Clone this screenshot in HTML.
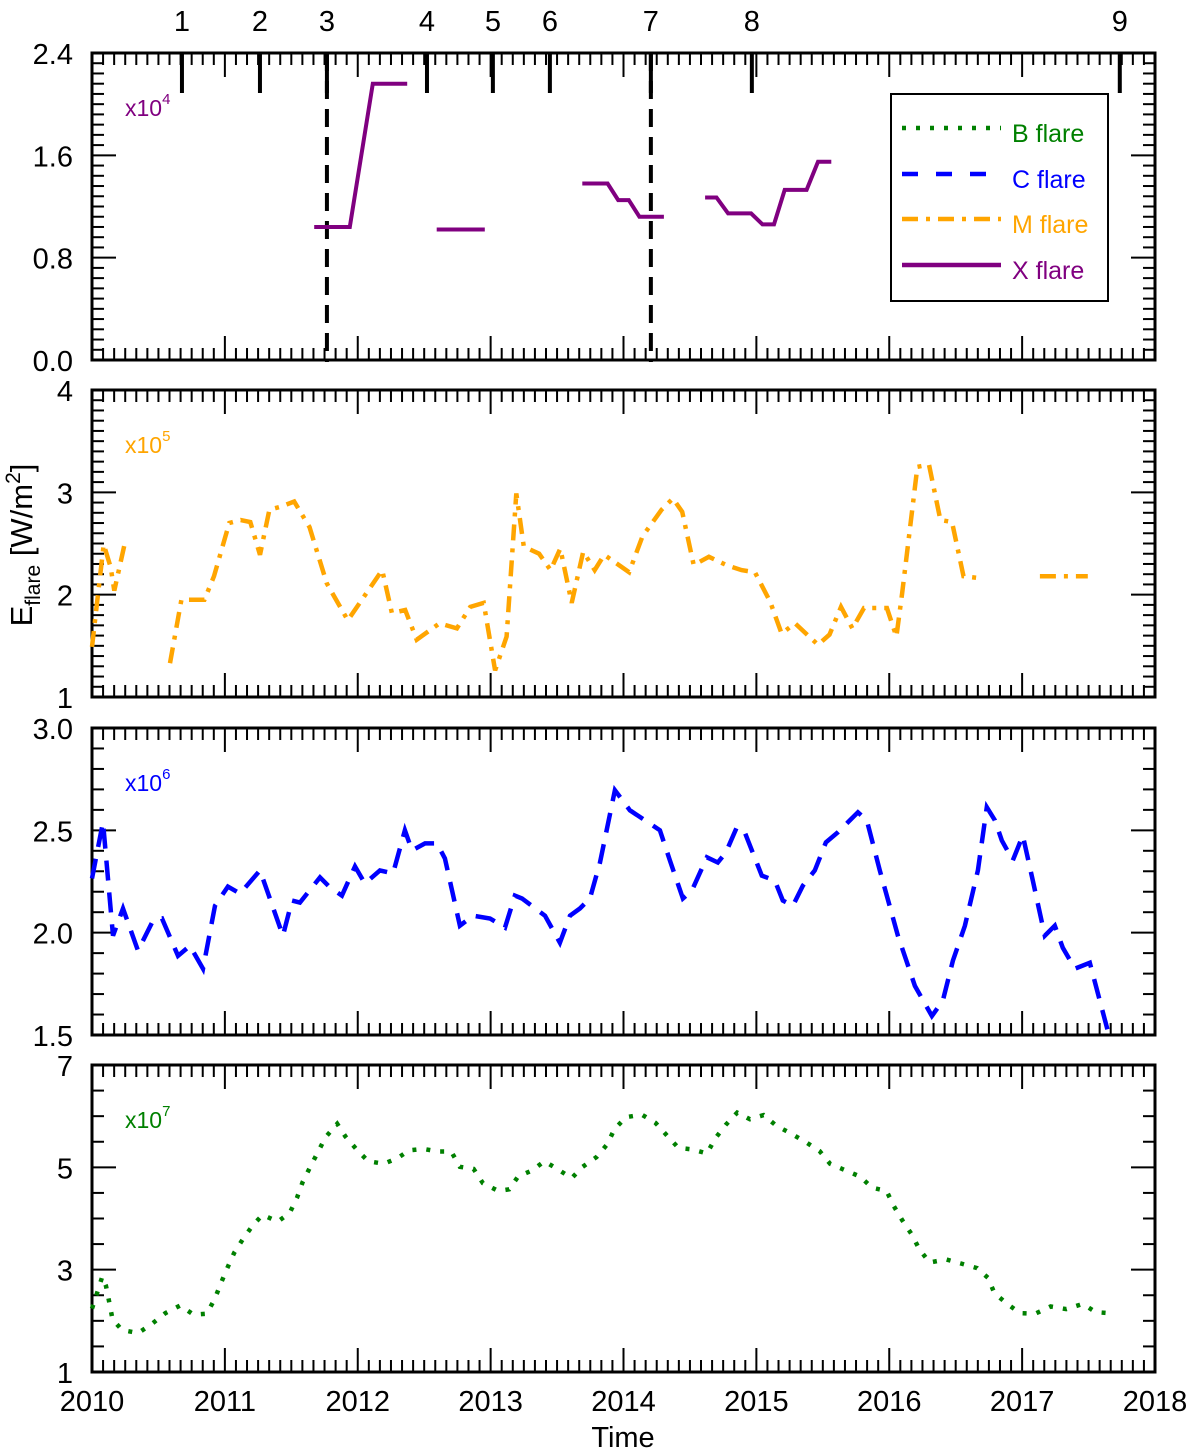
<!DOCTYPE html>
<html>
<head>
<meta charset="utf-8">
<style>
html,body{margin:0;padding:0;background:#fff;}
svg{display:block;font-family:"Liberation Sans",Arial,sans-serif;}
</style>
</head>
<body>
<svg id="chart" width="1200" height="1452" viewBox="0 0 1200 1452" xmlns="http://www.w3.org/2000/svg"></svg>
<script>
// ---- data ----
const xFlareSegments = [
  [[2011.672,1.04],[2011.94,1.04],[2012.113,2.16],[2012.372,2.16]],
  [[2012.594,1.02],[2012.956,1.02]],
  [[2013.69,1.38],[2013.88,1.38],[2013.96,1.25],[2014.04,1.25],[2014.12,1.12],[2014.304,1.12]],
  [[2014.614,1.27],[2014.70,1.27],[2014.787,1.146],[2014.96,1.146],[2015.046,1.06],[2015.133,1.06],[2015.213,1.33],[2015.378,1.33],[2015.464,1.55],[2015.564,1.55]]
];
const mFlareSegments = [
  [[2010.0,1.49],[2010.088,2.49],[2010.14,2.27],[2010.168,2.04],[2010.255,2.55]],
  [[2010.587,1.33],[2010.673,1.95],[2010.846,1.95],[2010.918,2.18],[2011.033,2.70],[2011.119,2.73],[2011.191,2.71],[2011.264,2.39],[2011.335,2.83],[2011.421,2.86],[2011.522,2.91],[2011.637,2.66],[2011.767,2.11],[2011.925,1.75],[2012.184,2.24],[2012.257,1.82],[2012.357,1.85],[2012.444,1.56],[2012.616,1.72],[2012.746,1.67],[2012.847,1.88],[2012.948,1.92],[2013.034,1.26],[2013.120,1.59],[2013.193,2.99],[2013.250,2.47],[2013.365,2.40],[2013.451,2.24],[2013.524,2.45],[2013.610,1.92],[2013.697,2.42],[2013.783,2.24],[2013.855,2.39],[2014.042,2.22],[2014.143,2.57],[2014.287,2.83],[2014.372,2.94],[2014.442,2.81],[2014.528,2.29],[2014.643,2.37],[2014.773,2.29],[2014.888,2.24],[2014.989,2.22],[2015.104,1.93],[2015.190,1.62],[2015.291,1.72],[2015.464,1.51],[2015.550,1.61],[2015.637,1.88],[2015.723,1.67],[2015.810,1.87],[2015.982,1.87],[2016.054,1.59],[2016.097,2.01],[2016.212,3.25],[2016.299,3.27],[2016.385,2.73],[2016.472,2.71],[2016.559,2.18],[2016.688,2.16]],
  [[2017.134,2.18],[2017.494,2.18]]
];
const cYears = [2010.00,2010.083,2010.158,2010.233,2010.346,2010.459,2010.527,2010.647,2010.737,2010.835,2010.926,2011.023,2011.114,2011.264,2011.437,2011.505,2011.565,2011.716,2011.791,2011.881,2011.979,2012.054,2012.167,2012.265,2012.355,2012.408,2012.506,2012.596,2012.656,2012.769,2012.867,2012.995,2013.108,2013.183,2013.236,2013.409,2013.521,2013.597,2013.672,2013.747,2013.823,2013.935,2014.048,2014.161,2014.274,2014.349,2014.447,2014.515,2014.628,2014.710,2014.771,2014.853,2014.913,2015.041,2015.139,2015.199,2015.275,2015.350,2015.440,2015.523,2015.613,2015.688,2015.764,2015.831,2015.929,2016.065,2016.193,2016.321,2016.403,2016.479,2016.569,2016.667,2016.734,2016.795,2016.847,2016.930,2017.005,2017.080,2017.171,2017.246,2017.306,2017.397,2017.509,2017.645];
const cValues = [2.265,2.54,1.985,2.118,1.912,2.059,2.069,1.887,1.936,1.824,2.132,2.225,2.191,2.304,1.985,2.157,2.147,2.270,2.221,2.181,2.324,2.240,2.304,2.289,2.500,2.402,2.436,2.436,2.363,2.034,2.083,2.069,2.025,2.181,2.167,2.083,1.951,2.083,2.118,2.167,2.343,2.696,2.598,2.549,2.500,2.353,2.167,2.206,2.368,2.343,2.392,2.515,2.490,2.279,2.255,2.157,2.132,2.230,2.304,2.441,2.490,2.539,2.588,2.549,2.304,1.985,1.740,1.593,1.667,1.863,2.034,2.304,2.613,2.549,2.451,2.353,2.475,2.255,1.985,2.034,1.926,1.824,1.853,1.520];
const bYears = [2010.00,2010.039,2010.077,2010.105,2010.131,2010.154,2010.226,2010.347,2010.451,2010.552,2010.664,2010.765,2010.863,2010.923,2010.969,2011.018,2011.070,2011.139,2011.211,2011.283,2011.398,2011.488,2011.542,2011.585,2011.643,2011.701,2011.758,2011.845,2011.908,2011.991,2012.078,2012.196,2012.300,2012.386,2012.495,2012.602,2012.703,2012.769,2012.872,2012.942,2013.057,2013.140,2013.207,2013.313,2013.405,2013.500,2013.610,2013.693,2013.797,2013.877,2013.932,2014.018,2014.137,2014.240,2014.324,2014.413,2014.519,2014.628,2014.692,2014.769,2014.856,2014.951,2015.054,2015.152,2015.262,2015.374,2015.475,2015.555,2015.671,2015.780,2015.872,2015.979,2016.033,2016.097,2016.169,2016.226,2016.304,2016.428,2016.540,2016.661,2016.744,2016.791,2016.883,2016.984,2017.099,2017.214,2017.332,2017.456,2017.554,2017.660];
const bValues = [2.24,2.55,2.86,2.68,2.35,2.03,1.82,1.76,1.94,2.15,2.30,2.12,2.14,2.42,2.73,3.03,3.33,3.61,3.87,4.07,3.94,4.11,4.40,4.71,5.01,5.30,5.59,5.85,5.60,5.35,5.12,5.07,5.18,5.33,5.36,5.31,5.31,5.01,4.97,4.69,4.54,4.57,4.82,4.94,5.12,4.97,4.79,5.01,5.20,5.45,5.75,5.98,6.03,5.87,5.63,5.38,5.35,5.27,5.57,5.83,6.07,5.94,6.02,5.81,5.66,5.49,5.32,5.07,4.94,4.82,4.60,4.54,4.25,3.97,3.69,3.40,3.14,3.20,3.12,3.03,2.84,2.54,2.34,2.15,2.14,2.28,2.23,2.33,2.17,2.15];
const eventYears = [2010.677,2011.264,2011.768,2012.521,2013.017,2013.446,2014.206,2014.966,2017.735];
const eventLabels = ["1","2","3","4","5","6","7","8","9"];
const dashedEvents = [2011.768,2014.206];
const xTickLabels = ["2010","2011","2012","2013","2014","2015","2016","2017","2018"];
const p1Ticks = ["0.0","0.8","1.6","2.4"];
const p2Ticks = ["1","2","3","4"];
const p3Ticks = ["1.5","2.0","2.5","3.0"];
const p4Ticks = ["1","3","5","7"];

// ---- layout ----
const NS = "http://www.w3.org/2000/svg";
const svg = document.getElementById('chart');
const X0 = 92, X1 = 1155, Y_START = 2010, Y_END = 2018;
const xs = y => X0 + (y - Y_START) / (Y_END - Y_START) * (X1 - X0);
function mk(tag, attrs, parent) {
  const e = document.createElementNS(NS, tag);
  for (const k in attrs) e.setAttribute(k, attrs[k]);
  (parent || svg).appendChild(e);
  return e;
}
const panels = [
  {name:'x-flare-panel', top:53, bottom:360, min:0, max:2.4, major:0.8, nMinor:10, ticks:p1Ticks, color:'#800080', exp:'4'},
  {name:'m-flare-panel', top:390, bottom:697, min:1, max:4, major:1, nMinor:10, ticks:p2Ticks, color:'#FFA500', exp:'5'},
  {name:'c-flare-panel', top:728, bottom:1035, min:1.5, max:3.0, major:0.5, nMinor:5, ticks:p3Ticks, color:'#0000FF', exp:'6'},
  {name:'b-flare-panel', top:1065, bottom:1372, min:1, max:7, major:2, nMinor:4, ticks:p4Ticks, color:'#008000', exp:'7'}
];
panels.forEach(p => { p.ys = v => p.bottom - (v - p.min) / (p.max - p.min) * (p.bottom - p.top); });

function pathD(pts, p) {
  return pts.map((q, i) => (i ? 'L' : 'M') + xs(q[0]).toFixed(1) + ' ' + p.ys(q[1]).toFixed(1)).join(' ');
}

panels.forEach((p, pi) => {
  const g = mk('g', {});
  
  
  for (let m = 0; m <= 96; m++) {
    const x = xs(Y_START + m / 12);
    const len = (m % 12 === 0) ? 24 : 12;
    mk('line', {x1:x, y1:p.bottom, x2:x, y2:p.bottom - len, stroke:'#000', 'stroke-width':2}, g);
    mk('line', {x1:x, y1:p.top, x2:x, y2:p.top + len, stroke:'#000', 'stroke-width':2}, g);
  }
  const nMaj = Math.round((p.max - p.min) / p.major);
  for (let i = 0; i <= nMaj * p.nMinor; i++) {
    const v = p.min + i * p.major / p.nMinor;
    const y = p.ys(v);
    const len = (i % p.nMinor === 0) ? 24 : 12;
    mk('line', {x1:X0, y1:y, x2:X0 + len, y2:y, stroke:'#000', 'stroke-width':2}, g);
    mk('line', {x1:X1, y1:y, x2:X1 - len, y2:y, stroke:'#000', 'stroke-width':2}, g);
  }
  p.ticks.forEach((t, i) => {
    const v = p.min + i * p.major;
    const tx = mk('text', {x:73, y:p.ys(v) + 11, 'text-anchor':'end', 'font-size':29, fill:'#000'}, g);
    tx.textContent = t;
    
    
  });
  const fr = mk('rect', {x:X0, y:p.top, width:X1 - X0, height:p.bottom - p.top, fill:'none', stroke:'#000', 'stroke-width':3}, g);
  
  
  const ml = mk('text', {x:125, y:p.top + 63, 'font-size':23, fill:p.color}, g);
  
  
  ml.textContent = 'x10';
  const sup = mk('tspan', {dy:-12, 'font-size':15}, ml);
  sup.textContent = p.exp;
});

xTickLabels.forEach((t, i) => {
  const tx = mk('text', {x:xs(Y_START + i), y:1411, 'text-anchor':'middle', 'font-size':29, fill:'#000'});
  
  
  tx.textContent = t;
});
const xt = mk('text', {x:623, y:1447, 'text-anchor':'middle', 'font-size':29, fill:'#000'});


xt.textContent = 'Time';

const yt = mk('text', {x:0, y:0, 'text-anchor':'middle', 'font-size':31, fill:'#000', transform:'translate(32,545) rotate(-90)'});


yt.appendChild(document.createTextNode('E'));
const sub = mk('tspan', {dy:8, 'font-size':21}, yt); sub.textContent = 'flare';
const rest = mk('tspan', {dy:-8}, yt); rest.textContent = ' [W/m';
const sup2 = mk('tspan', {dy:-12, 'font-size':21}, yt); sup2.textContent = '2';
const rest2 = mk('tspan', {dy:12}, yt); rest2.textContent = ']';

const P1 = panels[0];
eventYears.forEach((ey, i) => {
  const x = xs(ey);
  const tk = mk('line', {x1:x, y1:P1.top, x2:x, y2:P1.top + 40, stroke:'#000', 'stroke-width':4});
  
  
  const lb = mk('text', {x:x, y:31, 'text-anchor':'middle', 'font-size':29, fill:'#000'});
  
  
  lb.textContent = eventLabels[i];
});
dashedEvents.forEach(ey => {
  const x = xs(ey);
  const ln = mk('line', {x1:x, y1:P1.top, x2:x, y2:362, stroke:'#000', 'stroke-width':4, 'stroke-dasharray':'18 10'});
  
  
});

xFlareSegments.forEach(seg => {
  const pa = mk('path', {d:pathD(seg, panels[0]), fill:'none', stroke:'#800080', 'stroke-width':4});
  
  
});
mFlareSegments.forEach(seg => {
  const pa = mk('path', {d:pathD(seg, panels[1]), fill:'none', stroke:'#FFA500', 'stroke-width':4.5, 'stroke-dasharray':'16 8 4 8'});
  
  
});
const cPath = mk('path', {d:pathD(cYears.map((y, i) => [y, cValues[i]]), panels[2]), fill:'none', stroke:'#0000FF', 'stroke-width':4.5, 'stroke-dasharray':'20 12'});


const bPath = mk('path', {d:pathD(bYears.map((y, i) => [y, bValues[i]]), panels[3]), fill:'none', stroke:'#008000', 'stroke-width':4.5, 'stroke-dasharray':'4 10'});



const lg = mk('g', {});


mk('rect', {x:891, y:94, width:217, height:207, fill:'#fff', stroke:'#000', 'stroke-width':2}, lg);
const legItems = [
  ['B flare', '#008000', '4 10', 142],
  ['C flare', '#0000FF', '16 18', 188],
  ['M flare', '#FFA500', '16 8 4 8', 233],
  ['X flare', '#800080', 'none', 279]
];
legItems.forEach(it => {
  const en = mk('g', {}, lg);
  
  
  mk('line', {x1:902, y1:it[3] - 14, x2:1001, y2:it[3] - 14, stroke:it[1], 'stroke-width':4.5, 'stroke-dasharray':it[2]}, en);
  const t = mk('text', {x:1012, y:it[3], 'font-size':25, fill:it[1]}, en);
  t.textContent = it[0];
});
</script>
</body>
</html>
